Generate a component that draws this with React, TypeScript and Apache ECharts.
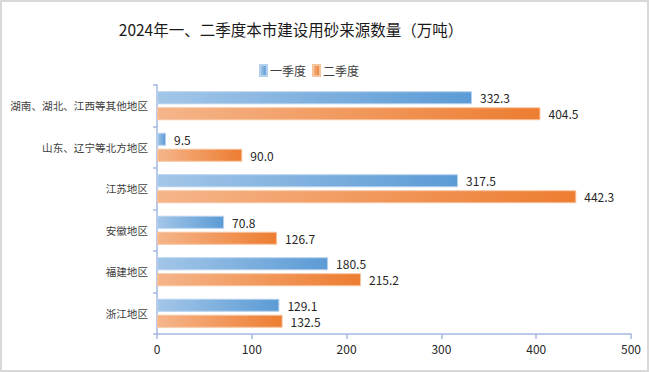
import React, { useEffect, useRef } from "react";
import * as echarts from "echarts";

const categories = [
  "浙江地区",
  "福建地区",
  "安徽地区",
  "江苏地区",
  "山东、辽宁等北方地区",
  "湖南、湖北、江西等其他地区",
];
const q1Values = [129.1, 180.5, 70.8, 317.5, 9.5, 332.3];
const q2Values = [132.5, 215.2, 126.7, 442.3, 90.0, 404.5];
const seriesNames = ["一季度", "二季度"];
const titleText = "2024年一、二季度本市建设用砂来源数量（万吨）";

const FONT = "'Noto Sans CJK SC', 'Noto Sans', sans-serif";

export default function App() {
  const ref = useRef<HTMLDivElement>(null);
  useEffect(() => {
    if (!ref.current) return;
    const chart = echarts.init(ref.current, undefined, { renderer: "svg" });
    const blue = new echarts.graphic.LinearGradient(0, 0, 1, 0, [
      { offset: 0, color: "#a3c6e8" },
      { offset: 1, color: "#5b9bd5" },
    ]);
    const orange = new echarts.graphic.LinearGradient(0, 0, 1, 0, [
      { offset: 0, color: "#f5b58a" },
      { offset: 1, color: "#ed7d31" },
    ]);
    const valueLabel = {
      show: true,
      position: "right",
      distance: 8,
      fontSize: 12,
      lineHeight: 13,
      color: "#262626",
      formatter: (p: any) => Number(p.value).toFixed(1),
    };
    chart.setOption({
      animation: false,
      textStyle: { fontFamily: FONT },
      title: {
        text: titleText,
        left: 286,
        top: 16,
        textAlign: "center",
        textStyle: { fontSize: 15.5, fontWeight: "normal", color: "#1a1a1a", fontFamily: FONT },
      },
      legend: {
        data: seriesNames,
        left: 254,
        top: 59,
        itemWidth: 7,
        itemHeight: 11,
        itemGap: 6,
        icon: "rect",
        textStyle: { fontSize: 12, color: "#404040", padding: [0, 0, 0, -2] },
      },
      grid: { left: 157, right: 18, top: 85, bottom: 38, containLabel: false },
      xAxis: {
        type: "value",
        min: 0,
        max: 500,
        interval: 100,
        axisLine: { show: true, lineStyle: { color: "#a5b7e0", width: 1.5 } },
        axisTick: { show: true, length: 5, lineStyle: { color: "#a5b7e0", width: 1.5 } },
        axisLabel: { fontSize: 12, color: "#262626", margin: 8 },
        splitLine: { show: false },
      },
      yAxis: {
        type: "category",
        data: categories,
        axisLine: { show: true, lineStyle: { color: "#a5b7e0", width: 1.5 } },
        axisTick: { show: true, length: 4, lineStyle: { color: "#a5b7e0", width: 1.5 } },
        axisLabel: { fontSize: 10.6, color: "#404040", margin: 9 },
      },
      series: [
        {
          name: seriesNames[0],
          type: "bar",
          data: q1Values,
          barWidth: 13,
          barGap: "23%",
          itemStyle: { color: blue, borderColor: "#b5d1ee", borderWidth: 1 },
          label: valueLabel,
        },
        {
          name: seriesNames[1],
          type: "bar",
          data: q2Values,
          barWidth: 13,
          itemStyle: { color: orange, borderColor: "#f7c4a0", borderWidth: 1 },
          label: valueLabel,
        },
      ],
    });
    return () => chart.dispose();
  }, []);
  return (
    <div
      style={{
        position: "fixed",
        left: 0,
        top: 0,
        width: 649,
        height: 372,
        boxSizing: "border-box",
        border: "2px solid #d9d9d9",
        background: "#fff",
      }}
    >
      <div ref={ref} style={{ position: "absolute", left: -2, top: -2, width: 649, height: 372 }} />
    </div>
  );
}
